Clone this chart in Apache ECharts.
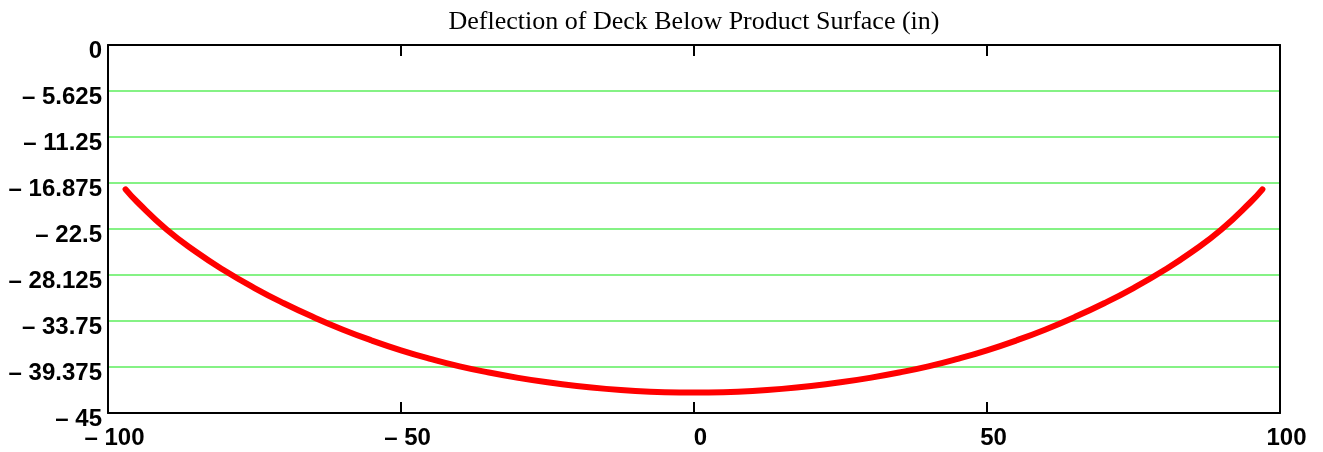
<!DOCTYPE html>
<html>
<head>
<meta charset="utf-8">
<title>Deflection of Deck Below Product Surface</title>
<script src="https://cdn.jsdelivr.net/npm/echarts@6/dist/echarts.min.js"></script>
<style>
  html, body { margin: 0; padding: 0; background: #fff; }
  #chart { width: 1323px; height: 452px; }
</style>
</head>
<body>
<div id="chart"></div>
<script>
// Deck position along the span
const positions = [-97, -95, -90, -85, -80, -75, -70, -65, -60, -55, -50, -45, -40, -35, -30, -25, -20, -15, -10, -5,
  0, 5, 10, 15, 20, 25, 30, 35, 40, 45, 50, 55, 60, 65, 70, 75, 80, 85, 90, 95, 97];
// Deflection below the product surface (in)
const deflection = [-17.65, -19.2, -22.56, -25.28, -27.64, -29.72, -31.58, -33.26, -34.78, -36.13, -37.33, -38.38, -39.3, -40.05, -40.7, -41.25, -41.7, -42.05, -42.3, -42.45,
  -42.5, -42.45, -42.3, -42.05, -41.7, -41.25, -40.7, -40.05, -39.3, -38.38, -37.33, -36.13, -34.78, -33.26, -31.58, -29.72, -27.64, -25.28, -22.56, -19.2, -17.65];
const title = 'Deflection of Deck Below Product Surface (in)';

const labelFont = { fontFamily: '"Liberation Sans", Arial, sans-serif', fontWeight: 'bold', fontSize: 24, color: '#000' };
const frame = { show: true, onZero: false, lineStyle: { color: '#000', width: 2 } };
const fmt = v => (v < 0 ? '\u2013 ' + String(Math.abs(v)) : String(v));

const chart = echarts.init(document.getElementById('chart'), null, { renderer: 'canvas' });
chart.setOption({
  animation: false,
  backgroundColor: '#fff',
  title: {
    text: title,
    left: 689,
    top: 4,
    textAlign: 'center',
    textStyle: { fontFamily: '"Liberation Serif", "Times New Roman", serif', fontWeight: 'normal', fontSize: 26, color: '#000' }
  },
  grid: { left: 108, right: 43, top: 45, bottom: 39, containLabel: false },
  xAxis: [
    {
      type: 'value', min: -100, max: 100, interval: 50, position: 'bottom',
      axisLine: frame,
      axisTick: { show: true, inside: true, length: 11, lineStyle: { color: '#000', width: 2 } },
      axisLabel: Object.assign({ margin: 13, padding: [0, 0, 0, 13], formatter: fmt }, labelFont),
      splitLine: { show: false }
    },
    {
      type: 'value', min: -100, max: 100, interval: 50, position: 'top',
      axisLine: frame,
      axisTick: { show: true, inside: true, length: 11, lineStyle: { color: '#000', width: 2 } },
      axisLabel: { show: false },
      splitLine: { show: false }
    }
  ],
  yAxis: [
    {
      type: 'value', min: -45, max: 0, interval: 5.625, position: 'left',
      axisLine: frame,
      axisTick: { show: false },
      axisLabel: Object.assign({ margin: 6, verticalAlign: 'top', lineHeight: 12, formatter: fmt }, labelFont),
      splitLine: { show: true, lineStyle: { color: '#85f285', width: 2 } }
    },
    {
      type: 'value', min: -45, max: 0, interval: 5.625, position: 'right',
      axisLine: frame,
      axisTick: { show: false },
      axisLabel: { show: false },
      splitLine: { show: false }
    }
  ],
  series: [{
    type: 'line',
    xAxisIndex: 0,
    yAxisIndex: 0,
    data: positions.map((x, i) => [x, deflection[i]]),
    smooth: true,
    symbol: 'none',
    lineStyle: { color: '#ff0000', width: 6, cap: 'round', join: 'round' },
    z: 3
  }]
});
</script>
</body>
</html>
